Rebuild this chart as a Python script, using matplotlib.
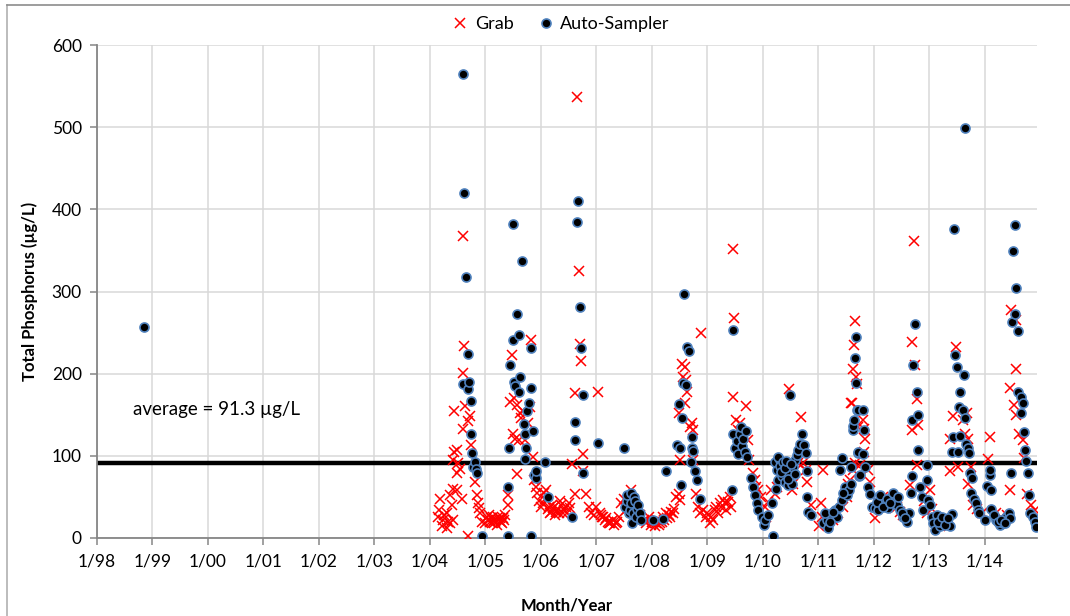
import matplotlib
matplotlib.use("Agg")
import matplotlib.pyplot as plt
from matplotlib.lines import Line2D

plt.rcParams['font.family'] = ['Lato', 'DejaVu Sans']

# ----------------- DATA (decimal year, total phosphorus in ug/L) -----------------
AVERAGE = 91.3

auto_year = [
    1998.85,
    2004.59, 2004.60, 2004.61, 2004.65, 2004.68, 2004.69, 2004.70, 2004.74, 2004.74, 2004.76,
    2004.78, 2004.81, 2004.83, 2004.84, 2004.93,
    2005.40, 2005.40, 2005.43, 2005.45, 2005.50, 2005.50, 2005.51, 2005.53, 2005.57, 2005.60,
    2005.60, 2005.63, 2005.66, 2005.69, 2005.71, 2005.72, 2005.73, 2005.75, 2005.78, 2005.83,
    2005.83, 2005.83, 2005.86, 2005.88, 2005.91, 2005.92,
    2006.07, 2006.13, 2006.56, 2006.62, 2006.62, 2006.65, 2006.67, 2006.71, 2006.73, 2006.75, 2006.75,
    2007.02, 2007.50, 2007.52, 2007.55, 2007.56, 2007.58, 2007.60, 2007.62, 2007.63, 2007.65,
    2007.66, 2007.68, 2007.70, 2007.71, 2007.73, 2007.75, 2007.78, 2007.80,
    2008.02, 2008.20, 2008.26, 2008.46, 2008.49, 2008.50, 2008.52, 2008.54, 2008.56, 2008.58,
    2008.61, 2008.64, 2008.67, 2008.71, 2008.72, 2008.73, 2008.74, 2008.78, 2008.81, 2008.86,
    2009.44, 2009.46, 2009.47, 2009.50, 2009.53, 2009.55, 2009.58, 2009.60, 2009.62, 2009.65,
    2009.68, 2009.70, 2009.72, 2009.79, 2009.82, 2009.86, 2009.89, 2009.92, 2009.98,
    2010.02, 2010.04, 2010.10, 2010.16, 2010.19, 2010.22, 2010.25, 2010.28, 2010.31, 2010.34,
    2010.37, 2010.40, 2010.43, 2010.46, 2010.48, 2010.52, 2010.55, 2010.58, 2010.61, 2010.64,
    2010.67, 2010.71, 2010.75, 2010.78, 2010.80, 2010.80, 2010.82, 2010.86,
    2010.24, 2010.27, 2010.30, 2010.33, 2010.36, 2010.39, 2010.42, 2010.45, 2010.50, 2010.57,
    2011.09, 2011.15, 2011.18, 2011.24, 2011.30, 2011.33, 2011.37, 2011.39, 2011.42, 2011.42,
    2011.48, 2011.51, 2011.55, 2011.58, 2011.59, 2011.63, 2011.63, 2011.65, 2011.66, 2011.68,
    2011.68, 2011.69, 2011.72, 2011.72, 2011.72, 2011.74, 2011.75, 2011.80, 2011.81, 2011.83,
    2011.84, 2011.90, 2011.93, 2011.96, 2011.12, 2011.21, 2011.27, 2011.45,
    2012.02, 2012.08, 2012.14, 2012.20, 2012.26, 2012.32, 2012.38, 2012.41, 2012.47, 2012.53,
    2012.59, 2012.63, 2012.67, 2012.68, 2012.68, 2012.71, 2012.74, 2012.77, 2012.79, 2012.79,
    2012.83, 2012.86, 2012.89, 2012.95, 2012.95, 2012.98,
    2012.05, 2012.11, 2012.17, 2012.23, 2012.29, 2012.35, 2012.44, 2012.50, 2012.56,
    2013.01, 2013.04, 2013.07, 2013.10, 2013.13, 2013.19, 2013.25, 2013.31, 2013.37, 2013.40,
    2013.40, 2013.43, 2013.45, 2013.47, 2013.50, 2013.51, 2013.53, 2013.56, 2013.56, 2013.60,
    2013.62, 2013.64, 2013.64, 2013.66, 2013.69, 2013.72, 2013.74, 2013.75, 2013.77, 2013.81,
    2013.84, 2013.87, 2013.90, 2013.16, 2013.22, 2013.28, 2013.34,
    2014.00, 2014.04, 2014.09, 2014.10, 2014.12, 2014.12, 2014.21, 2014.27, 2014.33, 2014.39,
    2014.43, 2014.45, 2014.47, 2014.49, 2014.51, 2014.54, 2014.55, 2014.56, 2014.59, 2014.60,
    2014.65, 2014.66, 2014.68, 2014.70, 2014.72, 2014.74, 2014.77, 2014.80, 2014.81, 2014.86,
    2014.90, 2014.92, 2014.16, 2014.24, 2014.30, 2014.36,
]
auto_tp = [
    257,
    188, 565, 420, 318, 224, 181, 190, 167, 127, 104,
    87, 93, 84, 79, 3,
    62, 2, 110, 210, 382, 241, 190, 185, 273, 247,
    178, 196, 337, 139, 127, 96, 110, 155, 164, 231,
    183, 2, 130, 77, 73, 82,
    93, 50, 26, 141, 119, 384, 410, 281, 231, 174, 79,
    116, 110, 38, 45, 52, 30, 34, 55, 42, 18,
    30, 50, 45, 26, 35, 40, 30, 22,
    22, 23, 82, 113, 163, 109, 64, 146, 189, 297,
    186, 233, 227, 92, 109, 123, 106, 81, 70, 48,
    58, 127, 253, 110, 118, 102, 126, 135, 112, 120,
    105, 130, 98, 73, 62, 52, 42, 34, 26,
    16, 22, 28, 42, 2, 93, 83, 70, 95, 75,
    87, 68, 79, 64, 174, 66, 87, 95, 101, 107,
    115, 127, 113, 103, 82, 50, 32, 28,
    60, 98, 88, 80, 92, 85, 94, 72, 90, 78,
    18, 22, 12, 26, 34, 26, 38, 83, 97, 46,
    62, 52, 58, 66, 87, 131, 136, 144, 219, 245,
    189, 156, 103, 105, 156, 75, 77, 102, 156, 131,
    87, 62, 54, 38, 30, 20, 32, 55,
    36, 34, 46, 40, 36, 50, 46, 40, 34, 26,
    20, 30, 55, 76, 144, 210, 261, 178, 150, 107,
    62, 50, 34, 89, 70, 46,
    44, 52, 38, 48, 42, 55, 50, 30, 24,
    40, 26, 18, 10, 28, 14, 18, 22, 14, 29,
    105, 123, 376, 223, 208, 105, 160, 178, 124, 156,
    198, 499, 146, 115, 109, 103, 79, 55, 73, 48,
    42, 34, 30, 20, 26, 16, 24,
    22, 63, 77, 83, 59, 35, 22, 16, 18, 26,
    30, 24, 79, 263, 349, 381, 273, 304, 252, 178,
    172, 152, 164, 129, 107, 94, 79, 52, 30, 26,
    20, 13, 28, 20, 22, 18,
]

grab_year = [
    2004.15, 2004.19, 2004.21, 2004.24, 2004.30, 2004.30, 2004.36, 2004.37, 2004.41, 2004.42,
    2004.42, 2004.43, 2004.44, 2004.48, 2004.48, 2004.48, 2004.51, 2004.54, 2004.57, 2004.59,
    2004.59, 2004.60, 2004.62, 2004.63, 2004.69, 2004.69, 2004.72, 2004.74, 2004.81, 2004.84,
    2004.86, 2004.88, 2004.90, 2004.94, 2004.17, 2004.26, 2004.33, 2004.39,
    2005.00, 2005.05, 2005.08, 2005.12, 2005.16, 2005.20, 2005.24, 2005.28, 2005.32, 2005.36,
    2005.02, 2005.06, 2005.10, 2005.14, 2005.18, 2005.22, 2005.26, 2005.30, 2005.34,
    2005.40, 2005.40, 2005.44, 2005.47, 2005.49, 2005.52, 2005.53, 2005.56, 2005.57, 2005.60,
    2005.62, 2005.64, 2005.68, 2005.71, 2005.77, 2005.80, 2005.83, 2005.85, 2005.88, 2005.91,
    2005.93, 2005.96,
    2006.00, 2006.03, 2006.09, 2006.12, 2006.16, 2006.20, 2006.25, 2006.30, 2006.35, 2006.40,
    2006.45, 2006.50, 2006.56, 2006.61, 2006.62, 2006.65, 2006.69, 2006.71, 2006.73, 2006.75,
    2006.75, 2006.82, 2006.86, 2006.90, 2006.95,
    2006.05, 2006.07, 2006.14, 2006.18, 2006.22, 2006.27, 2006.32, 2006.37, 2006.42, 2006.47,
    2006.52,
    2007.00, 2007.02, 2007.06, 2007.10, 2007.15, 2007.20, 2007.25, 2007.30, 2007.35, 2007.40,
    2007.45, 2007.50, 2007.55, 2007.62, 2007.70, 2007.78, 2007.85, 2007.90, 2007.95,
    2007.08, 2007.12, 2007.17, 2007.22, 2007.27, 2007.32, 2007.38, 2007.92, 2007.98,
    2008.00, 2008.05, 2008.10, 2008.15, 2008.20, 2008.25, 2008.30, 2008.35, 2008.40, 2008.44,
    2008.03, 2008.08, 2008.12, 2008.18, 2008.22, 2008.28, 2008.33, 2008.38,
    2008.48, 2008.49, 2008.50, 2008.50, 2008.55, 2008.56, 2008.60, 2008.60, 2008.62, 2008.63,
    2008.68, 2008.72, 2008.74, 2008.74, 2008.80, 2008.83, 2008.86, 2008.88, 2008.92, 2008.98,
    2009.04, 2009.10, 2009.16, 2009.22, 2009.28, 2009.34, 2009.40, 2009.43, 2009.46, 2009.46,
    2009.00, 2009.07, 2009.13, 2009.19, 2009.25, 2009.31, 2009.37,
    2009.48, 2009.52, 2009.55, 2009.58, 2009.64, 2009.69, 2009.73, 2009.75, 2009.82, 2009.85,
    2009.88, 2009.91, 2009.97,
    2010.03, 2010.06, 2010.15, 2010.21, 2010.47, 2010.52, 2010.55, 2010.64, 2010.68, 2010.73,
    2010.78, 2010.80, 2010.87, 2010.10, 2010.26, 2010.35,
    2011.02, 2011.05, 2011.07, 2011.09, 2011.27, 2011.36, 2011.45, 2011.51, 2011.54, 2011.57,
    2011.58, 2011.60, 2011.63, 2011.63, 2011.65, 2011.66, 2011.66, 2011.68, 2011.69, 2011.72,
    2011.75, 2011.81, 2011.82, 2011.84, 2011.82, 2011.90, 2011.93,
    2012.02, 2012.16, 2012.28, 2012.41, 2012.53, 2012.65, 2012.69, 2012.69, 2012.72, 2012.74,
    2012.77, 2012.77, 2012.80, 2012.90, 2012.95, 2012.10, 2012.22, 2012.35, 2012.47,
    2013.01, 2013.10, 2013.20, 2013.30, 2013.37, 2013.37, 2013.43, 2013.48, 2013.51, 2013.60,
    2013.64, 2013.67, 2013.69, 2013.69, 2013.75, 2013.78, 2013.85, 2013.95, 2013.05, 2013.15,
    2014.05, 2014.10, 2014.20, 2014.30, 2014.40, 2014.45, 2014.46, 2014.48, 2014.52, 2014.56,
    2014.56, 2014.56, 2014.62, 2014.68, 2014.71, 2014.76, 2014.90, 2014.84,
]
grab_tp = [
    26, 48, 14, 22, 30, 12, 18, 52, 95, 22,
    60, 105, 154, 107, 79, 58, 91, 84, 47, 133,
    201, 367, 234, 161, 143, 3, 148, 113, 68, 52,
    42, 36, 30, 20, 34, 28, 20, 40,
    18, 22, 20, 18, 22, 16, 22, 20, 24, 28,
    25, 28, 24, 26, 20, 26, 24, 18, 22,
    40, 52, 165, 223, 127, 170, 121, 162, 78, 119,
    152, 146, 154, 119, 140, 160, 241, 99, 70, 62,
    55, 45,
    38, 42, 58, 35, 30, 40, 28, 35, 45, 30,
    38, 42, 90, 54, 176, 537, 325, 236, 215, 102,
    81, 54, 38, 30, 28,
    55, 48, 38, 32, 36, 32, 30, 40, 34, 30,
    36,
    38, 178, 30, 25, 22, 20, 18, 22, 18, 25,
    42, 48, 35, 58, 40, 28, 22, 18, 25,
    28, 26, 24, 18, 20, 16, 20, 22, 16,
    20, 15, 22, 18, 25, 30, 28, 32, 35, 50,
    20, 18, 16, 20, 22, 24, 26, 30,
    54, 152, 95, 46, 212, 196, 208, 164, 192, 178,
    135, 140, 131, 95, 54, 38, 30, 250, 34, 26,
    18, 22, 38, 42, 46, 34, 50, 38, 352, 172,
    30, 26, 34, 30, 38, 42, 44,
    268, 144, 131, 140, 123, 161, 119, 95, 79, 70,
    62, 58, 50,
    38, 26, 58, 54, 181, 58, 66, 91, 147, 91,
    83, 68, 40, 44, 62, 70,
    14, 42, 26, 83, 22, 30, 38, 50, 66, 70,
    164, 164, 83, 206, 235, 264, 91, 196, 188, 135,
    89, 144, 133, 121, 105, 83, 68,
    24, 50, 46, 38, 28, 64, 131, 239, 362, 211,
    169, 89, 137, 45, 30, 42, 36, 44, 32,
    58, 22, 15, 18, 121, 81, 148, 233, 87, 144,
    127, 152, 121, 66, 87, 40, 35, 30, 35, 18,
    96, 123, 30, 25, 28, 58, 183, 277, 162, 265,
    206, 150, 127, 119, 97, 54, 34, 40,
]

year_ticks = list(range(1998, 2015))
tick_labels = [f"1/{y % 100:02d}" for y in year_ticks]
y_ticks = [0, 100, 200, 300, 400, 500, 600]
# ---------------------------------------------------------------------------------

GRID = '#d9d9d9'
AXIS = '#868686'

fig = plt.figure(figsize=(10.7, 6.16), dpi=100)
ax = fig.add_axes([97 / 1070, 78 / 616, 940 / 1070, 493 / 616])

ax.axhline(AVERAGE, color='black', linewidth=3.2, zorder=2)
ax.plot(grab_year, grab_tp, linestyle='none', marker='x', color='#ff0000',
        markersize=7, markeredgewidth=1.1, label='Grab', zorder=3)
ax.plot(auto_year, auto_tp, linestyle='none', marker='o', markerfacecolor='black',
        markeredgecolor='#4f81bd', markeredgewidth=1.2, markersize=6.5,
        label='Auto-Sampler', zorder=4)

ax.set_xlim(1998, 2014.94)
ax.set_ylim(0, 600)
ax.set_xticks(year_ticks)
ax.set_xticklabels(tick_labels)
ax.set_yticks(y_ticks)
ax.grid(True, color=GRID, linewidth=1.1, zorder=0)
ax.set_axisbelow(True)

for side in ['top', 'right']:
    ax.spines[side].set_visible(False)
for side in ['left', 'bottom']:
    ax.spines[side].set_color(AXIS)
    ax.spines[side].set_linewidth(1.3)
ax.tick_params(axis='both', direction='out', length=5, color=AXIS, width=1.1,
               labelsize=12.5, labelcolor='black', pad=6)

ax.set_xlabel('Month/Year', fontsize=12, fontweight='bold', labelpad=20)
ax.set_ylabel('Total Phosphorus (µg/L)', fontsize=12, fontweight='bold', labelpad=10)

ax.text(1998.65, 156, f'average = {AVERAGE} µg/L', fontsize=13.5, va='center', ha='left')

fig.legend(loc='center', bbox_to_anchor=(0.523, 0.961), ncol=2, frameon=False,
           fontsize=13, handletextpad=0.2, columnspacing=1.2, handlelength=1.2)

# chart-area border (left and top edges)
fig.add_artist(Line2D([7 / 1070, 7 / 1070], [0, 611 / 616], color='#b0b0b0', linewidth=1.2))
fig.add_artist(Line2D([7 / 1070, 1], [611 / 616, 611 / 616], color='#8c8c8c', linewidth=1.2))

fig.savefig('out.png', dpi=100)
